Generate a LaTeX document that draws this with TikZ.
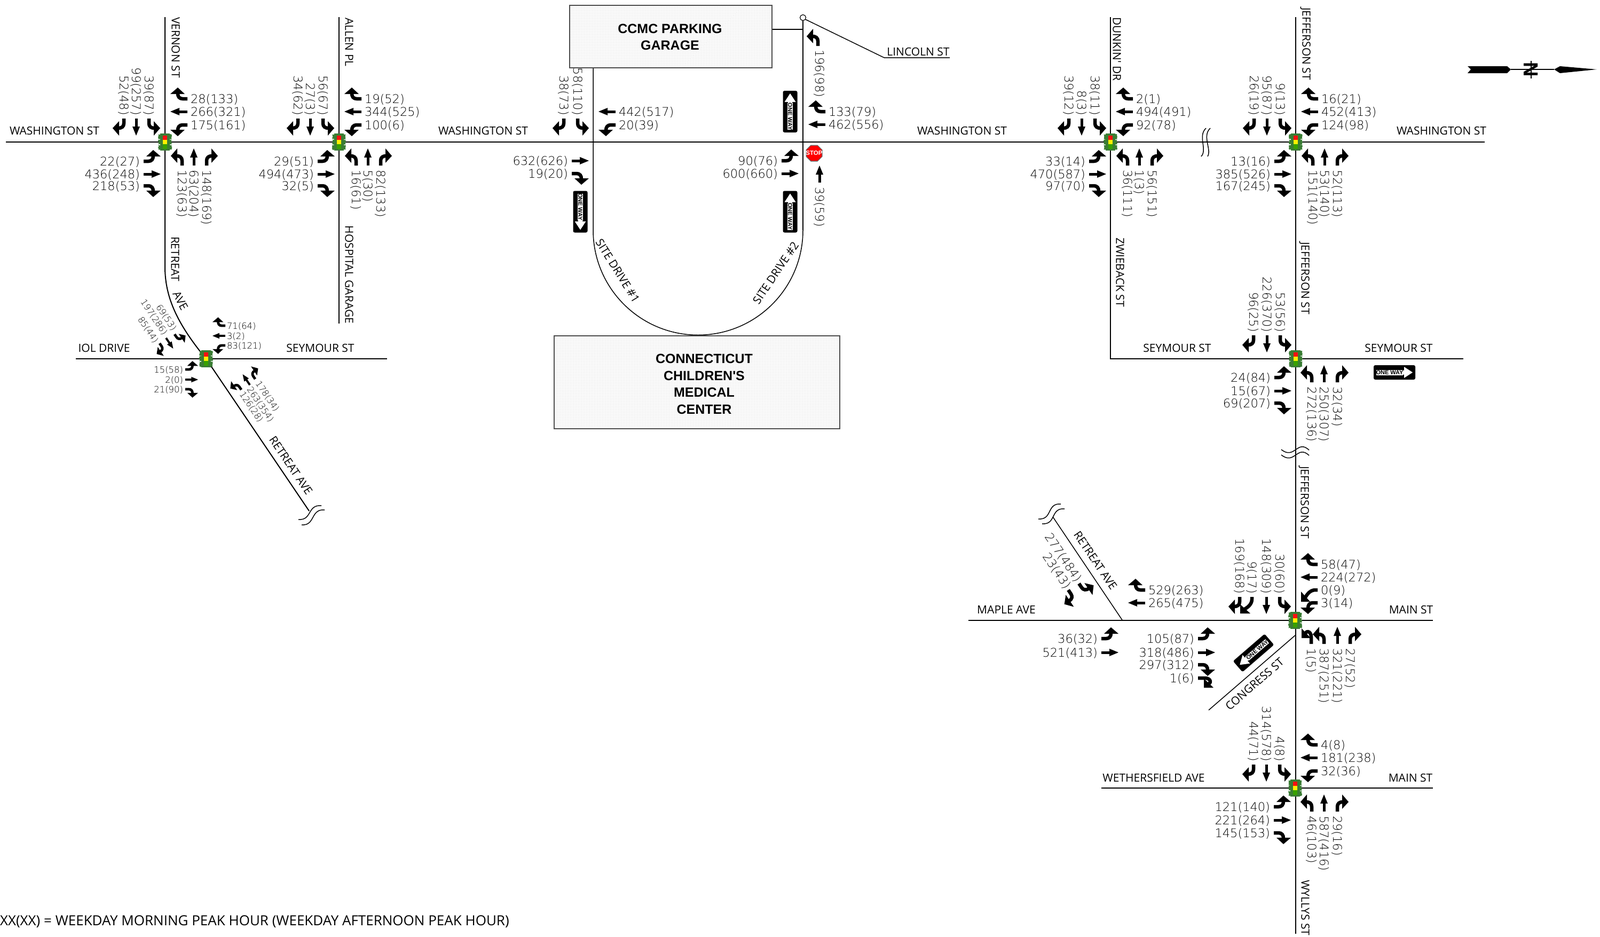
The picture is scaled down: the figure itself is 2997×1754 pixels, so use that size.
\documentclass[tikz,border=0pt]{standalone}
\usepackage{fontspec}
\usetikzlibrary{patterns,decorations.pathmorphing}
\newfontfamily\volf{DejaVu Sans ExtraLight}
\newfontfamily\strf{Open Sans}
\newfontfamily\bldf{Liberation Sans}[BoldFont={Liberation Sans Bold}]
\definecolor{sighouse}{HTML}{3A7D34}
\definecolor{siggreen}{HTML}{38A000}
\definecolor{sigred}{HTML}{FF1010}
\definecolor{sigyellow}{HTML}{FFF000}
\newcommand{\gw}{6.5}
\newcommand{\gwt}{5}
\newcommand{\gs}{1}
\newcommand{\vs}{vol}
\tikzset{
  vol/.style={font=\volf\fontsize{22.5}{24}\selectfont,inner sep=0pt,outer sep=0pt,text height=16pt,text depth=0pt},
  volsm/.style={font=\volf\fontsize{16.4}{18}\selectfont,inner sep=0pt,outer sep=0pt,text height=12pt,text depth=0pt},
  street/.style={font=\strf\fontsize{21}{24}\selectfont,inner sep=0pt,outer sep=0pt,text height=15pt,text depth=0pt},
  notetxt/.style={font=\strf\fontsize{26}{28}\selectfont,inner sep=0pt,outer sep=0pt,text height=18pt,text depth=0pt},
  bldtxt/.style={font=\bldf\bfseries\fontsize{25}{27}\selectfont,inner sep=0pt,outer sep=0pt,text height=18pt,text depth=0pt},
  road/.style={line width=2.5pt,black},
  vroad/.style={line width=2pt,black},
  thin road/.style={line width=1.5pt,black},
  squig/.style={line width=1.5pt,black},
  bld/.style={draw=black!70,line width=2pt,pattern=dots,pattern color=black!45},
  shaft/.style={line width=\gw pt,black},
  shaftt/.style={line width=\gwt pt,black},
  lobe/.style={fill=sighouse,draw=sighouse,line width=0.6pt,decorate,decoration={random steps,segment length=2pt,amplitude=0.9pt}},
  thrg/.pic={\draw[shaftt] (0,0)--(0,-17); \fill[black] (-7,-15)--(0,-32)--(7,-15)--cycle;},
  rgtg/.pic={\draw[shaft] (0,0)--(0,-9) .. controls (0,-15) and (4,-18) .. (10,-18); \fill[black] (9,-32)--(21,-18)--(9,-5)--cycle;},
  lftg/.pic={\draw[shaft] (0,0)--(0,-9) .. controls (0,-15) and (-4,-18) .. (-10,-18); \fill[black] (-9,-32)--(-21,-18)--(-9,-5)--cycle;},
  bearr/.pic={\draw[shaft] (0,0)--(0,-4) .. controls (0,-12) and (5,-18) .. (14,-23); \fill[black] (22,-31)--(22,-14)--(3,-31)--cycle;},
  bearl/.pic={\draw[shaft] (0,0)--(0,-4) .. controls (0,-12) and (-5,-18) .. (-14,-23); \fill[black] (-22,-31)--(-22,-14)--(-3,-31)--cycle;},
  hookl/.pic={\draw[shaft] (0,0)--(0,-13) .. controls (0,-25) and (-12,-27) .. (-12,-14); \fill[black] (-18,-29)--(-18,-11)--(-1,-11)--cycle;},
  hookr/.pic={\draw[shaft] (0,0)--(0,-13) .. controls (0,-25) and (12,-27) .. (12,-14); \fill[black] (18,-29)--(18,-11)--(1,-11)--cycle;},
  signal/.pic={
    \path[lobe] (-12,-14) rectangle (12,-6);
    \path[lobe] (-12,-4) rectangle (12,4);
    \path[lobe] (-12,6) rectangle (12,14);
    \fill[sighouse] (-9,-16) rectangle (9,16);
    \fill[sigred] (-4,-12) rectangle (4,-4);
    \fill[sigyellow] (-4,-4) rectangle (4,4);
    \fill[siggreen] (-4,4) rectangle (4,13);
  },
}
% lane helpers (inside an intersection scope)
\newcommand{\laneT}[3]{\pic[rotate=180,scale=\gs] at (#1,-44) {#2}; \node[\vs,rotate=-90,anchor=east] at (#1,-50) {#3};}
\newcommand{\laneB}[3]{\pic[scale=\gs] at (#1,44) {#2}; \node[\vs,rotate=-90,anchor=west] at (#1,52) {#3};}
\newcommand{\laneL}[3]{\pic[rotate=-90,scale=\gs] at (-40,#1) {#2}; \node[\vs,anchor=east] at (-47,#1) {#3};}
\newcommand{\laneR}[3]{\pic[rotate=90,scale=\gs] at (42,#1) {#2}; \node[\vs,anchor=west] at (48,#1) {#3};}
\newcommand{\oneway}[4]{\begin{scope}[shift={(#1,#2)},rotate=#3]
  \fill[black,rounded corners=3pt] (-39,-13.5) rectangle (39,13.5);
  \fill[white] (16,-4)--(18,-4)--(18,-10.5)--(34,0)--(18,10.5)--(18,4)--(16,4)--cycle;
  \fill[white] (-34,-5) rectangle (16,5);
  \node[inner sep=0pt,rotate=#4,font=\bldf\bfseries\fontsize{11}{11}\selectfont,text=black] at (-9,0) {ONE WAY};
\end{scope}}
\begin{document}
\begin{tikzpicture}[x=1pt,y=-1pt]
\useasboundingbox (0,0) rectangle (2997,1754);
\fill[white] (0,0) rectangle (2997,1754);

% ---------- roads
\draw[road] (11,266)--(2781,266);
\draw[vroad] (309,32)--(309,500) .. controls (309,560) and (335,610) .. (386,672)--(579,957);
\draw[vroad] (635,32)--(635,606);
\draw[road] (142,672)--(725,672);
\draw[thin road] (1111,127)--(1111,431) arc[start angle=180,end angle=360,x radius=196.5,y radius=-196.5];
\draw[thin road] (1504,39)--(1504,431);
\draw[road] (1446,55)--(1504,55);
\draw[line width=1.2pt] (1504,33) circle[radius=5.5];
\draw[line width=1.5pt] (1508,36)--(1656,108)--(1779,108);
\draw[vroad] (2080,32)--(2080,672)--(2741,672);
\draw[vroad] (2427,32)--(2427,1749);
\draw[road] (1814,1162)--(2684,1162);
\draw[road] (2063,1476)--(2684,1476);
\draw[thin road] (1972,968)--(2102.5,1162);
\draw[thin road] (2426,1190)--(2264,1330);

% ---------- breaks
\draw[squig] (2259,240) .. controls (2243,255) and (2262,280) .. (2250,293);
\draw[squig] (2267,240) .. controls (2251,255) and (2270,280) .. (2262,293);
\draw[squig] (559,973) .. controls (585,975) and (575,945) .. (602,947);
\draw[squig] (565,983) .. controls (591,985) and (581,953) .. (608,955);
\draw[squig] (1945,972) .. controls (1972,974) and (1960,942) .. (1987,944);
\draw[squig] (1952,981) .. controls (1979,983) and (1967,951) .. (1994,953);
\draw[squig] (2400,842) .. controls (2425,862) and (2430,822) .. (2452,843);
\draw[squig] (2400,852) .. controls (2425,872) and (2430,832) .. (2452,853);

% ---------- buildings
\path[bld] (1067,10) rectangle (1446,127);
\node[bldtxt] at (1255,53) {CCMC PARKING};
\node[bldtxt] at (1255,84) {GARAGE};
\path[bld] (1038,629) rectangle (1573,803);
\node[bldtxt] at (1319,671) {CONNECTICUT};
\node[bldtxt] at (1319,703) {CHILDREN'S};
\node[bldtxt] at (1319,734) {MEDICAL};
\node[bldtxt] at (1319,766) {CENTER};

% ---------- street names
\node[street] at (102,245) {WASHINGTON ST};
\node[street] at (905,245) {WASHINGTON ST};
\node[street] at (1802,245) {WASHINGTON ST};
\node[street] at (2700,245) {WASHINGTON ST};
\node[street,rotate=-90,anchor=west] at (329,32) {VERNON ST};
\node[street,rotate=-90,anchor=west] at (654,33) {ALLEN PL};
\node[street,rotate=-90,anchor=east] at (654,606) {HOSPITAL GARAGE};
\node[street,rotate=-90,anchor=west] at (328,443) {RETREAT};
\node[street,rotate=-62] at (338,563) {AVE};
\node[street,rotate=-56] at (545,872) {RETREAT AVE};
\node[street] at (195,652) {IOL DRIVE};
\node[street] at (600,652) {SEYMOUR ST};
\node[street,rotate=-58] at (1157,507) {SITE DRIVE \#1};
\node[street,rotate=56] at (1453,511) {SITE DRIVE \#2};
\node[street] at (1720,97) {LINCOLN ST};
\node[street,rotate=-90,anchor=west] at (2092,32) {DUNKIN' DR};
\node[street,rotate=-90,anchor=west] at (2447,14) {JEFFERSON ST};
\node[street,rotate=-90,anchor=west] at (2098,445) {ZWIEBACK ST};
\node[street] at (2205,652) {SEYMOUR ST};
\node[street] at (2620,652) {SEYMOUR ST};
\node[street,rotate=-90,anchor=west] at (2445,453) {JEFFERSON ST};
\node[street,rotate=-90,anchor=west] at (2444,873) {JEFFERSON ST};
\node[street,rotate=-56] at (2052,1050) {RETREAT AVE};
\node[street] at (1885,1142) {MAPLE AVE};
\node[street] at (2643,1142) {MAIN ST};
\node[street,rotate=41] at (2350,1281) {CONGRESS ST};
\node[street] at (2161,1457) {WETHERSFIELD AVE};
\node[street] at (2642,1457) {MAIN ST};
\node[street,rotate=-90,anchor=west] at (2445,1648) {WYLLYS ST};
\node[notetxt,anchor=west] at (0,1724) {XX(XX) = WEEKDAY MORNING PEAK HOUR (WEEKDAY AFTERNOON PEAK HOUR)};

% ---------- Vernon
\begin{scope}[shift={(309,266)}]
\laneT{-30}{lftg}{39(87)} \laneT{-54}{thrg}{99(257)} \laneT{-77}{rgtg}{52(48)}
\laneR{-81}{rgtg}{28(133)} \laneR{-57}{thrg}{266(321)} \laneR{-32}{lftg}{175(161)}
\laneB{32}{lftg}{123(63)} \laneB{54}{thrg}{63(204)} \laneB{78}{rgtg}{148(169)}
\laneL{36}{lftg}{22(27)} \laneL{60}{thrg}{436(248)} \laneL{82}{rgtg}{218(53)}
\pic {signal};
\end{scope}
% ---------- Allen
\begin{scope}[shift={(635,266)}]
\laneT{-30}{lftg}{56(67)} \laneT{-54}{thrg}{27(3)} \laneT{-77}{rgtg}{34(62)}
\laneR{-81}{rgtg}{19(52)} \laneR{-57}{thrg}{344(525)} \laneR{-32}{lftg}{100(6)}
\laneB{32}{lftg}{16(61)} \laneB{54}{thrg}{5(30)} \laneB{78}{rgtg}{82(133)}
\laneL{36}{lftg}{29(51)} \laneL{60}{thrg}{494(473)} \laneL{82}{rgtg}{32(5)}
\pic {signal};
\end{scope}
% ---------- Iol / Seymour / Retreat
\begin{scope}[shift={(386,672)}]
\renewcommand{\gs}{0.75}\renewcommand{\gw}{4.8}\renewcommand{\gwt}{3.8}
\pic[rotate=90,scale=\gs] at (36,-62) {rgtg}; \node[volsm,anchor=west] at (39,-62) {71(64)};
\pic[rotate=90,scale=\gs] at (36,-43) {thrg}; \node[volsm,anchor=west] at (39,-43) {3(2)};
\pic[rotate=90,scale=\gs] at (36,-25) {lftg}; \node[volsm,anchor=west] at (39,-25) {83(121)};
\pic[rotate=-90,scale=\gs] at (-39,20) {lftg}; \node[volsm,anchor=east] at (-43,20) {15(58)};
\pic[rotate=-90,scale=\gs] at (-39,39) {thrg}; \node[volsm,anchor=east] at (-43,39) {2(0)};
\pic[rotate=-90,scale=\gs] at (-39,57) {rgtg}; \node[volsm,anchor=east] at (-43,57) {21(90)};
\pic {signal};
\pic[rotate=34,scale=\gs] at (66,58) {lftg}; \node[volsm,rotate=-56,anchor=west] at (67,63) {126(28)};
\pic[rotate=34,scale=\gs] at (82,49) {thrg}; \node[volsm,rotate=-56,anchor=west] at (81,54) {263(354)};
\pic[rotate=34,scale=\gs] at (92,38) {rgtg}; \node[volsm,rotate=-56,anchor=west] at (97,43) {178(34)};
\pic[rotate=214,scale=\gs] at (-59,-46) {lftg}; \node[volsm,rotate=-56,anchor=east] at (-59,-55) {69(53)};
\pic[rotate=214,scale=\gs] at (-75,-39) {thrg}; \node[volsm,rotate=-56,anchor=east] at (-76,-47) {197(286)};
\pic[rotate=214,scale=\gs] at (-87,-29) {rgtg}; \node[volsm,rotate=-56,anchor=east] at (-93,-32) {85(44)};
\end{scope}
% ---------- Site Drive 1
\begin{scope}[shift={(1111,266)}]
\laneT{-29}{lftg}{58(110)} \laneT{-55}{rgtg}{38(73)}
\laneR{-57}{thrg}{442(517)} \laneR{-32}{lftg}{20(39)}
\laneL{35}{thrg}{632(626)} \laneL{59}{rgtg}{19(20)}
\end{scope}
% ---------- Site Drive 2
\begin{scope}[shift={(1504,266)}]
\laneR{-57}{rgtg}{133(79)} \laneR{-33}{thrg}{462(556)}
\laneL{35}{lftg}{90(76)} \laneL{59}{thrg}{600(660)}
\pic at (28,-180) {lftg}; \node[vol,rotate=-90,anchor=west] at (31,-173) {196(98)};
\pic at (31,76) {thrg}; \node[vol,rotate=-90,anchor=west] at (31,84) {39(59)};
\end{scope}
% stop sign
\fill[black!60] (1518.6,271.5)--(1531.4,271.5)--(1540.5,280.6)--(1540.5,293.4)--(1531.4,302.5)--(1518.6,302.5)--(1509.5,293.4)--(1509.5,280.6)--cycle;
\fill[red] (1519,273)--(1531,273)--(1539,281)--(1539,293)--(1531,301)--(1519,301)--(1511,293)--(1511,281)--cycle;
\node[inner sep=0pt,text=white,font=\bldf\bfseries\fontsize{11.5}{12}\selectfont] at (1525,287) {STOP};
% ---------- Dunkin
\begin{scope}[shift={(2080,266)}]
\laneT{-29}{lftg}{38(11)} \laneT{-54}{thrg}{8(3)} \laneT{-78}{rgtg}{39(12)}
\laneR{-81}{rgtg}{2(1)} \laneR{-57}{thrg}{494(491)} \laneR{-32}{lftg}{92(78)}
\laneB{32}{lftg}{36(111)} \laneB{54}{thrg}{1(3)} \laneB{78}{rgtg}{56(151)}
\laneL{36}{lftg}{33(14)} \laneL{60}{thrg}{470(587)} \laneL{82}{rgtg}{97(70)}
\pic {signal};
\end{scope}
% ---------- Jefferson / Washington
\begin{scope}[shift={(2427,266)}]
\laneT{-29}{lftg}{9(13)} \laneT{-54}{thrg}{95(87)} \laneT{-78}{rgtg}{26(19)}
\laneR{-81}{rgtg}{16(21)} \laneR{-57}{thrg}{452(413)} \laneR{-32}{lftg}{124(98)}
\laneB{32}{lftg}{151(140)} \laneB{54}{thrg}{53(140)} \laneB{78}{rgtg}{52(113)}
\laneL{36}{lftg}{13(16)} \laneL{60}{thrg}{385(526)} \laneL{82}{rgtg}{167(245)}
\pic {signal};
\end{scope}
% ---------- Jefferson / Seymour
\begin{scope}[shift={(2427,672)}]
\laneT{-29}{lftg}{53(56)} \laneT{-54}{thrg}{226(370)} \laneT{-79}{rgtg}{96(25)}
\laneB{30}{lftg}{272(136)} \laneB{53}{thrg}{250(307)} \laneB{78}{rgtg}{32(34)}
\laneL{35}{lftg}{24(84)} \laneL{60}{thrg}{15(67)} \laneL{83}{rgtg}{69(207)}
\pic {signal};
\end{scope}
% ---------- Jefferson / Main
\begin{scope}[shift={(2426,1162)}]
\laneT{-29}{lftg}{30(60)} \laneT{-54}{thrg}{148(309)} \laneT{-81}{bearr}{9(17)} \laneT{-104}{rgtg}{169(168)}
\laneR{-105}{rgtg}{58(47)} \laneR{-81}{thrg}{224(272)} \laneR{-57}{bearl}{0(9)} \laneR{-33}{lftg}{3(14)}
\laneB{30}{hookl}{1(5)} \laneB{54}{lftg}{387(251)} \laneB{79}{thrg}{321(221)} \laneB{103}{rgtg}{27(52)}
\pic {signal};
\end{scope}
\begin{scope}[shift={(2284,1162)}]
\laneL{34}{lftg}{105(87)} \laneL{60}{thrg}{318(486)} \laneL{83}{rgtg}{297(312)} \laneL{108}{hookr}{1(6)}
\end{scope}
\begin{scope}[shift={(2103,1162)}]
\laneL{34}{lftg}{36(32)} \laneL{60}{thrg}{521(413)}
\laneR{-57}{rgtg}{529(263)} \laneR{-33}{thrg}{265(475)}
\end{scope}
\pic[rotate=214] at (2021,1093) {lftg}; \node[vol,rotate=-56,anchor=east] at (2021,1087) {277(484)};
\pic[rotate=214] at (2001,1105) {rgtg}; \node[vol,rotate=-56,anchor=east] at (2001,1100) {23(43)};
% ---------- Jefferson / Main 2
\begin{scope}[shift={(2426,1476)}]
\laneT{-29}{lftg}{4(8)} \laneT{-54}{thrg}{314(578)} \laneT{-78}{rgtg}{44(71)}
\laneR{-81}{rgtg}{4(8)} \laneR{-57}{thrg}{181(238)} \laneR{-32}{lftg}{32(36)}
\laneB{31}{lftg}{46(103)} \laneB{54}{thrg}{587(416)} \laneB{79}{rgtg}{29(16)}
\laneL{35}{lftg}{121(140)} \laneL{60}{thrg}{221(264)} \laneL{84}{rgtg}{145(153)}
\pic {signal};
\end{scope}

% ---------- one way signs
\oneway{1480}{209}{90}{-90}
\oneway{1480}{396.5}{90}{-90}
\oneway{1087}{396.5}{-90}{-90}
\oneway{2612}{697.5}{0}{0}
\oneway{2348}{1223}{220.8}{40.8}

% ---------- north arrow
\fill[black] (2749,124)--(2823,124)--(2830,130)--(2823,137)--(2749,137)--(2755,130)--cycle;
\draw[line width=1.5pt] (2830,130)--(2911,130);
\fill[black] (2911,130)--(2922,124)--(2991,130)--(2922,137)--cycle;
\draw[line width=1.5pt] (2868,114)--(2868,147);
\node[inner sep=0pt,rotate=-90,font=\bldf\bfseries\fontsize{38}{38}\selectfont] at (2868,130) {N};
\end{tikzpicture}
\end{document}
